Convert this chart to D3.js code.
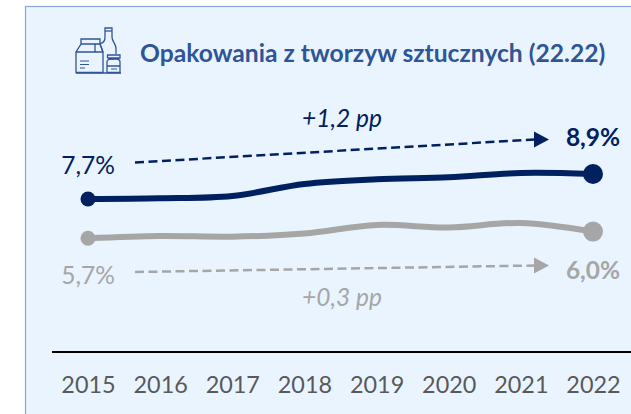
<!DOCTYPE html>
<html><head><meta charset="utf-8">
<script src="https://cdnjs.cloudflare.com/ajax/libs/d3/7.8.5/d3.min.js"></script>
<style>html,body{margin:0;padding:0;background:#fff}svg{display:block}text{font-family:Lato,"Open Sans",sans-serif}</style>
</head><body><svg id="c" width="631" height="414"></svg>
<script>
const years = ["2015","2016","2017","2018","2019","2020","2021","2022"];
const navyValues = [7.7,7.735,7.85,8.45,8.685,8.785,9.0,8.95];
const grayValues = [5.735,5.85,5.815,5.975,6.4,6.275,6.5,6.07];
const title = "Opakowania z tworzyw sztucznych (22.22)";
const navy="#002060", gray="#A6A6A6", blue="#2F5597";

const svg=d3.select("#c");
const x=d3.scalePoint().domain(years).range([88,593]);
const y=d3.scaleLinear().domain([7.7,8.7]).range([199,179]);

svg.append("rect").attr("x",25.5).attr("y",6.5).attr("width",620).attr("height",420)
  .attr("fill","#E9F4FF").attr("stroke","#8EA6D6").attr("stroke-width",1.2);

// icon
const ic=svg.append("g").attr("fill","none").attr("stroke",blue).attr("stroke-width",1.3).attr("stroke-linejoin","miter");
ic.append("path").attr("d","M76 72.5V52L81 44V39H100V44L103 52V72.5Z M76 52H103 M81 44H100 M95 44V52");
ic.append("path").attr("d","M103 52L100 44C104 42 105 41 105 37V28H112V37C112 42 116 43 116 49V54");
ic.append("path").attr("d","M105 31H112");
ic.append("path").attr("d","M107 72.5V62C107 59 109 59 116 59C119 59 120 60 120 62V72.5Z M107.5 58V55H120V58H107.5 M107 66H120");
ic.append("path").attr("d","M80 61H89 M80 64.5H89 M80 68H85 M111 69H117").attr("stroke-width",1.1);
ic.append("path").attr("d","M76 73H121").attr("stroke-width",1.4);

svg.append("text").attr("x",140).attr("y",62).attr("font-size",24.65).attr("font-weight",700).attr("fill",blue).text(title);

// axis
svg.append("line").attr("x1",52).attr("x2",631).attr("y1",352).attr("y2",352).attr("stroke","#000").attr("stroke-width",2);
const ax=svg.append("g").attr("transform","translate(0,352)").call(d3.axisBottom(x).tickSize(0).tickPadding(24));
ax.select(".domain").remove();
ax.selectAll("text").attr("font-size",23.4).attr("fill","#595959").style("font-family","Lato");

// lines
const line=d3.line().x((d,i)=>x(years[i])).y(d=>y(d)).curve(d3.curveCatmullRom.alpha(0.5));
[[grayValues,gray],[navyValues,navy]].forEach(([v,c])=>{
  svg.append("path").attr("d",line(v)).attr("fill","none").attr("stroke",c).attr("stroke-width",6).attr("stroke-linecap","round");
  svg.append("circle").attr("cx",x(years[0])).attr("cy",y(v[0])).attr("r",7.5).attr("fill",c);
  svg.append("circle").attr("cx",x(years[7])).attr("cy",y(v[7])).attr("r",10).attr("fill",c);
});

// trend arrows
function arrow(x1,y1,x2,y2,c){
  svg.append("line").attr("x1",x1).attr("y1",y1).attr("x2",x2-14).attr("y2",y2).attr("stroke",c).attr("stroke-width",2.5).attr("stroke-dasharray","9 4.5");
  svg.append("path").attr("d",`M${x2-15} ${y2-8}L${x2} ${y2}L${x2-15} ${y2+8}Z`).attr("fill",c);
}
arrow(135,162.5,549,139.5,navy);
arrow(135,272,549,265.5,gray);

function label(t,xx,yy,c,o={}){
  svg.append("text").attr("x",xx).attr("y",yy).attr("text-anchor","middle").attr("font-size",o.s||24.5)
   .attr("fill",c).attr("font-weight",o.b?700:400).attr("font-style",o.i?"italic":"normal").text(t);
}
label("7,7%",88,174,navy);
label("5,7%",88,284,gray);
label("8,9%",593,146,navy,{b:1});
label("6,0%",593,279,gray,{b:1});
label("+1,2 pp",342,127,navy,{i:1});
label("+0,3 pp",342,306,gray,{i:1});
</script></body></html>
